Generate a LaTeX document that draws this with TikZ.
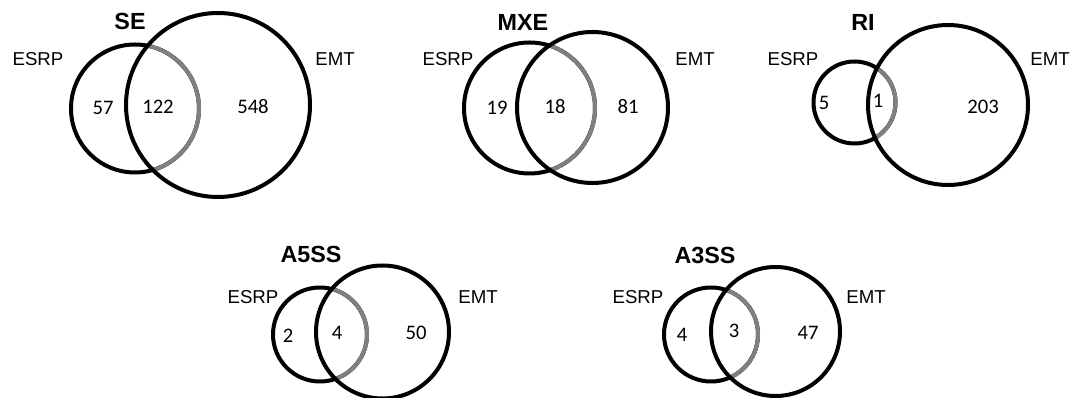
\documentclass[tikz,border=0pt]{standalone}
\usepackage{fontspec}
\setmainfont{Liberation Sans}
\newfontfamily\numfont{Carlito}
\definecolor{ringgray}{RGB}{128,128,128}
\tikzset{
  ring/.style={line width=3pt, draw=black},
  overlap/.style={line width=3pt, draw=ringgray},
  vtitle/.style={font=\fontsize{17.5}{20}\selectfont\bfseries, inner sep=0pt},
  setlabel/.style={font=\fontsize{14}{16}\selectfont, inner sep=0pt},
  count/.style={font=\numfont\fontsize{15.5}{18}\selectfont, inner sep=0pt},
}
% two-set Venn outline: ESRP circle (x,y,r), EMT circle (x,y,r);
% the ESRP arc lying inside EMT is drawn grey
\newcommand{\vennpair}[6]{%
  \draw[ring] (#1,#2) circle[radius={#3*0.75pt}];
  \begin{scope}
    \clip (#4,#5) circle[radius={#6*0.75pt}];
    \draw[overlap] (#1,#2) circle[radius={#3*0.75pt}];
  \end{scope}
  \draw[ring] (#4,#5) circle[radius={#6*0.75pt}];
}
\begin{document}
\begin{tikzpicture}[x=0.75pt, y=-0.75pt]
\useasboundingbox (0,0) rectangle (1075,398);

% SE
\vennpair{135}{108.5}{64}{218}{105}{92}
\node[vtitle]   (se-t)  at (130,21)  {SE};
\node[setlabel] (se-a)  at (38,59)   {ESRP};
\node[setlabel] (se-b)  at (335,59)  {EMT};
\node[count]    (se-1)  at (103,108) {57};
\node[count]    (se-2)  at (158,107) {122};
\node[count]    (se-3)  at (253,107) {548};

% MXE
\vennpair{529.5}{108}{65.5}{592.5}{107.5}{75.5}
\node[vtitle]   (mxe-t) at (523,22)  {MXE};
\node[setlabel] (mxe-a) at (448,59)  {ESRP};
\node[setlabel] (mxe-b) at (695,59)  {EMT};
\node[count]    (mxe-1) at (497,108) {19};
\node[count]    (mxe-2) at (555,107) {18};
\node[count]    (mxe-3) at (628,107) {81};

% RI
\vennpair{854.5}{102.5}{41}{948}{105}{80}
\node[vtitle]   (ri-t)  at (863,22)  {RI};
\node[setlabel] (ri-a)  at (793,59)  {ESRP};
\node[setlabel] (ri-b)  at (1050,59) {EMT};
\node[count]    (ri-1)  at (824,103) {5};
\node[count]    (ri-2)  at (878,101) {1};
\node[count]    (ri-3)  at (983,107) {203};

% A5SS
\vennpair{320}{334.5}{47}{382.5}{332}{66.5}
\node[vtitle]   (a5-t)  at (311,254) {A5SS};
\node[setlabel] (a5-a)  at (253,297) {ESRP};
\node[setlabel] (a5-b)  at (478,297) {EMT};
\node[count]    (a5-1)  at (288,336) {2};
\node[count]    (a5-2)  at (337,333) {4};
\node[count]    (a5-3)  at (416,333) {50};

% A3SS
\vennpair{711}{334.5}{47}{775.5}{331.5}{64.5}
\node[vtitle]   (a3-t)  at (705,255) {A3SS};
\node[setlabel] (a3-a)  at (638,297) {ESRP};
\node[setlabel] (a3-b)  at (866,297) {EMT};
\node[count]    (a3-1)  at (682,335) {4};
\node[count]    (a3-2)  at (734,331) {3};
\node[count]    (a3-3)  at (808,333) {47};
\end{tikzpicture}
\end{document}
